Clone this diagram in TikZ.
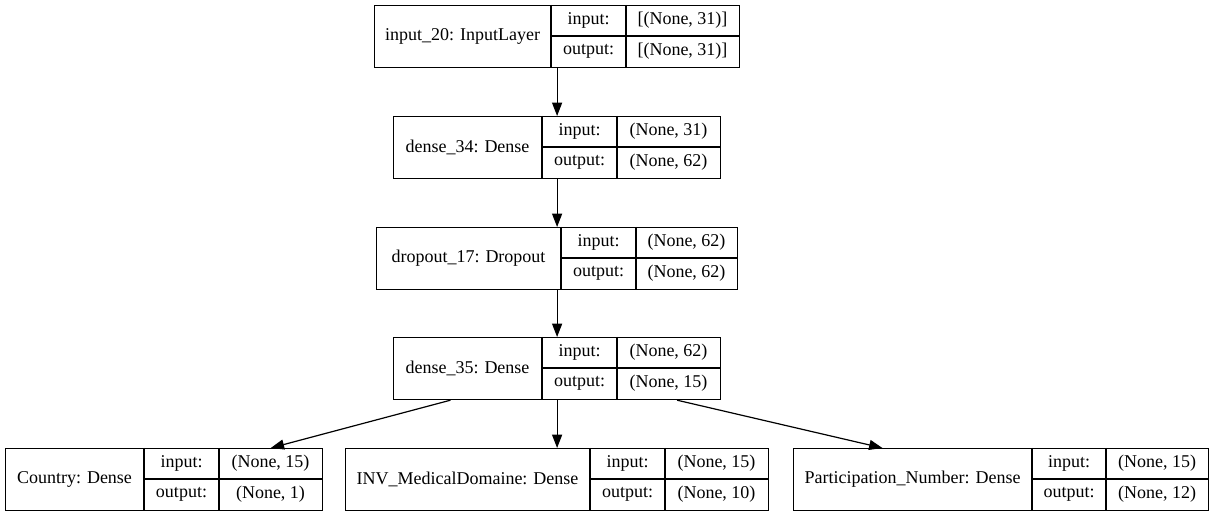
\documentclass[tikz,border=0pt]{standalone}
\usepackage{fontspec}
\setmainfont{Liberation Serif}
\usepackage{tikz}
\usetikzlibrary{arrows.meta,positioning}

% one keras layer record: name, left, div1, div2, right, top, label, input, output
\newcommand{\layerrec}[9]{%
	\node[recbox, minimum width={(#5-#2)*0.75pt}, anchor=north west] (#1) at (#2,#6) {};
	\draw[recline] (#3,#6) -- (#3,{#6+62});
	\draw[recline] (#4,#6) -- (#4,{#6+62});
	\draw[recline] (#3,{#6+31}) -- (#5,{#6+31});
	\node[rectext] (#1-lbl) at ({(#2+#3)/2},{#6+31}) {#7};
	\node[rectext] (#1-inkey) at ({(#3+#4)/2},{#6+15.5}) {input:};
	\node[rectext] (#1-outkey) at ({(#3+#4)/2},{#6+46.5}) {output:};
	\node[rectext] (#1-in) at ({(#4+#5)/2},{#6+15.5}) {#8};
	\node[rectext] (#1-out) at ({(#4+#5)/2},{#6+46.5}) {#9};
}

\tikzset{
	recbox/.style={draw, line width=0.9pt, inner sep=0pt, minimum height=46.5pt},
	recline/.style={line width=0.9pt},
	rectext/.style={inner sep=0pt, font=\fontsize{13.5}{15}\selectfont},
	flow/.style={line width=0.9pt, -{Triangle[length=10pt, width=7.5pt]}}
}

\begin{document}
\begin{tikzpicture}[x=0.75pt, y=-0.75pt]
	\useasboundingbox (0,0) rectangle (1215,516);
	\layerrec{inp}{374}{551}{626}{739}{5}{input\_20: InputLayer}{[(None, 31)]}{[(None, 31)]}
	\layerrec{dA}{393}{542}{617}{720}{116}{dense\_34: Dense}{(None, 31)}{(None, 62)}
	\layerrec{drop}{376}{561}{636}{737}{227}{dropout\_17: Dropout}{(None, 62)}{(None, 62)}
	\layerrec{dB}{393}{542}{617}{720}{337}{dense\_35: Dense}{(None, 62)}{(None, 15)}
	\layerrec{country}{5}{144}{219}{322}{448}{Country: Dense}{(None, 15)}{(None, 1)}
	\layerrec{medical}{345}{590}{665}{768}{448}{INV\_MedicalDomaine: Dense}{(None, 15)}{(None, 10)}
	\layerrec{particip}{793}{1032}{1106}{1208}{448}{Participation\_Number: Dense}{(None, 15)}{(None, 12)}
	% edges
	\draw[flow] (inp.south) -- (dA.north);
	\draw[flow] (dA.south) -- (drop.north);
	\draw[flow] (drop.south) -- (dB.north);
	\draw[flow] ([xshift=-80pt]dB.south) -- ([xshift=80pt]country.north);
	\draw[flow] (dB.south) -- (medical.north);
	\draw[flow] ([xshift=90pt]dB.south) -- ([xshift=-89pt]particip.north);
\end{tikzpicture}
\end{document}
